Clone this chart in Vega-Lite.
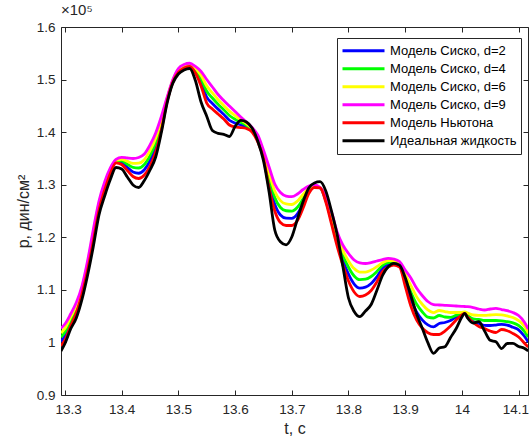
{
  "$schema": "https://vega.github.io/schema/vega-lite/v6.json",
  "width": 467,
  "height": 368,
  "autosize": "none",
  "padding": {"left": 61, "top": 27, "right": 2, "bottom": 50},
  "background": "white",
  "title": {"text": "×10⁵", "anchor": "start", "frame": "group", "fontSize": 15, "font": "Liberation Sans", "fontWeight": "normal", "color": "#262626", "offset": 2},
  "data": {"values": [
    {"t":13.293,"Модель Сиско, d=2":100160,"Модель Сиско, d=4":101000,"Модель Сиско, d=6":101780,"Модель Сиско, d=9":102690,"Модель Ньютона":99320,"Идеальная жидкость":98370},
    {"t":13.30,"Модель Сиско, d=2":101220,"Модель Сиско, d=4":101980,"Модель Сиско, d=6":102680,"Модель Сиско, d=9":103500,"Модель Ньютона":100460,"Идеальная жидкость":99800},
    {"t":13.31,"Модель Сиско, d=2":103690,"Модель Сиско, d=4":104270,"Модель Сиско, d=6":104790,"Модель Сиско, d=9":105410,"Модель Ньютона":103120,"Идеальная жидкость":102550},
    {"t":13.32,"Модель Сиско, d=2":106100,"Модель Сиско, d=4":106600,"Модель Сиско, d=6":107050,"Модель Сиско, d=9":107590,"Модель Ньютона":105600,"Идеальная жидкость":104650},
    {"t":13.33,"Модель Сиско, d=2":109590,"Модель Сиско, d=4":109970,"Модель Сиско, d=6":110320,"Модель Сиско, d=9":110730,"Модель Ньютона":109210,"Идеальная жидкость":108170},
    {"t":13.34,"Модель Сиско, d=2":114230,"Модель Сиско, d=4":114680,"Модель Сиско, d=6":115090,"Модель Сиско, d=9":115580,"Модель Ньютона":113780,"Идеальная жидкость":112830},
    {"t":13.35,"Модель Сиско, d=2":119840,"Модель Сиско, d=4":120390,"Модель Сиско, d=6":120890,"Модель Сиско, d=9":121480,"Модель Ньютона":119290,"Идеальная жидкость":118250},
    {"t":13.36,"Модель Сиско, d=2":125620,"Модель Сиско, d=4":126050,"Модель Сиско, d=6":126440,"Модель Сиско, d=9":126900,"Модель Ньютона":125190,"Идеальная жидкость":124240},
    {"t":13.37,"Модель Сиско, d=2":129370,"Модель Сиско, d=4":129760,"Модель Сиско, d=6":130110,"Модель Сиско, d=9":130520,"Модель Ньютона":128990,"Идеальная жидкость":127850},
    {"t":13.38,"Модель Сиско, d=2":132390,"Модель Сиско, d=4":132660,"Модель Сиско, d=6":132900,"Модель Сиско, d=9":133180,"Модель Ньютона":132130,"Идеальная жидкость":130990},
    {"t":13.39,"Модель Сиско, d=2":134330,"Модель Сиско, d=4":134490,"Модель Сиско, d=6":134630,"Модель Сиско, d=9":134800,"Модель Ньютона":134170,"Идеальная жидкость":133270},
    {"t":13.40,"Модель Сиско, d=2":134180,"Модель Сиско, d=4":134530,"Модель Сиско, d=6":134840,"Модель Сиско, d=9":135210,"Модель Ньютона":133840,"Идеальная жидкость":132990},
    {"t":13.41,"Модель Сиско, d=2":133300,"Модель Сиско, d=4":133890,"Модель Сиско, d=6":134440,"Модель Сиско, d=9":135080,"Модель Ньютона":132700,"Идеальная жидкость":131470},
    {"t":13.42,"Модель Сиско, d=2":132420,"Модель Сиско, d=4":133280,"Модель Сиско, d=6":134060,"Модель Сиско, d=9":134990,"Модель Ньютона":131560,"Идеальная жидкость":129950},
    {"t":13.43,"Модель Сиско, d=2":132180,"Модель Сиско, d=4":133180,"Модель Сиско, d=6":134100,"Модель Сиско, d=9":135180,"Модель Ньютона":131180,"Идеальная жидкость":129470},
    {"t":13.44,"Модель Сиско, d=2":132850,"Модель Сиско, d=4":133850,"Модель Сиско, d=6":134760,"Модель Сиско, d=9":135840,"Модель Ньютона":131850,"Идеальная жидкость":130800},
    {"t":13.45,"Модель Сиско, d=2":134560,"Модель Сиско, d=4":135560,"Модель Сиско, d=6":136470,"Модель Сиско, d=9":137550,"Модель Ньютона":133560,"Идеальная жидкость":132800},
    {"t":13.46,"Модель Сиско, d=2":137130,"Модель Сиско, d=4":138030,"Модель Сиско, d=6":138860,"Модель Сиско, d=9":139840,"Модель Ньютона":136220,"Идеальная жидкость":135270},
    {"t":13.47,"Модель Сиско, d=2":141050,"Модель Сиско, d=4":141700,"Модель Сиско, d=6":142290,"Модель Сиско, d=9":142980,"Модель Ньютона":140410,"Идеальная жидкость":139930},
    {"t":13.48,"Модель Сиско, d=2":145950,"Модель Сиско, d=4":146160,"Модель Сиско, d=6":146360,"Модель Сиско, d=9":146590,"Модель Ньютона":145730,"Идеальная жидкость":145450},
    {"t":13.49,"Модель Сиско, d=2":149560,"Модель Сиско, d=4":149680,"Модель Сиско, d=6":149790,"Модель Сиско, d=9":149920,"Модель Ньютона":149440,"Идеальная жидкость":149250},
    {"t":13.50,"Модель Сиско, d=2":151540,"Модель Сиско, d=4":151730,"Модель Сиско, d=6":151900,"Модель Сиско, d=9":152110,"Модель Ньютона":151350,"Идеальная жидкость":151060},
    {"t":13.51,"Модель Сиско, d=2":152370,"Модель Сиско, d=4":152540,"Модель Сиско, d=6":152690,"Модель Сиско, d=9":152870,"Модель Ньютона":152200,"Идеальная жидкость":151820},
    {"t":13.52,"Модель Сиско, d=2":152640,"Модель Сиско, d=4":152800,"Модель Сиско, d=6":152940,"Модель Сиско, d=9":153100,"Модель Ньютона":152490,"Идеальная жидкость":152110},
    {"t":13.53,"Модель Сиско, d=2":151560,"Модель Сиско, d=4":151870,"Модель Сиско, d=6":152160,"Модель Сиско, d=9":152490,"Модель Ньютона":151250,"Идеальная жидкость":149820},
    {"t":13.54,"Модель Сиско, d=2":149470,"Модель Сиско, d=4":150160,"Модель Сиско, d=6":150800,"Модель Сиско, d=9":151540,"Модель Ньютона":148780,"Идеальная жидкость":145730},
    {"t":13.55,"Модель Сиско, d=2":146660,"Модель Сиско, d=4":147780,"Модель Сиско, d=6":148800,"Модель Сиско, d=9":150010,"Модель Ньютона":145540,"Идеальная жидкость":143030},
    {"t":13.56,"Модель Сиско, d=2":145450,"Модель Сиско, d=4":146500,"Модель Сиско, d=6":147460,"Модель Сиско, d=9":148590,"Модель Ньютона":144400,"Идеальная жидкость":140310},
    {"t":13.57,"Модель Сиско, d=2":144380,"Модель Сиско, d=4":145310,"Модель Сиско, d=6":146160,"Модель Сиско, d=9":147160,"Модель Ньютона":143450,"Идеальная жидкость":139780},
    {"t":13.58,"Модель Сиско, d=2":143380,"Модель Сиско, d=4":144260,"Модель Сиско, d=6":145070,"Модель Сиско, d=9":146020,"Модель Ньютона":142500,"Идеальная жидкость":139590},
    {"t":13.59,"Модель Сиско, d=2":142260,"Модель Сиско, d=4":143170,"Модель Сиско, d=6":144000,"Модель Сиско, d=9":144970,"Модель Ньютона":141360,"Идеальная жидкость":139170},
    {"t":13.60,"Модель Сиско, d=2":141720,"Модель Сиско, d=4":142460,"Модель Сиско, d=6":143130,"Модель Сиско, d=9":143930,"Модель Ньютона":140980,"Идеальная жидкость":141070},
    {"t":13.61,"Модель Сиско, d=2":141380,"Модель Сиско, d=4":141880,"Модель Сиско, d=6":142340,"Модель Сиско, d=9":142880,"Модель Ньютона":140880,"Идеальная жидкость":142250},
    {"t":13.62,"Модель Сиско, d=2":141000,"Модель Сиско, d=4":141310,"Модель Сиско, d=6":141600,"Модель Сиско, d=9":141930,"Модель Ньютона":140690,"Идеальная жидкость":141930},
    {"t":13.63,"Модель Сиско, d=2":140240,"Модель Сиско, d=4":140460,"Модель Сиско, d=6":140650,"Модель Сиско, d=9":140880,"Модель Ньютона":140030,"Идеальная жидкость":140790},
    {"t":13.64,"Модель Сиско, d=2":138460,"Модель Сиско, d=4":138800,"Модель Сиско, d=6":139100,"Модель Сиско, d=9":139460,"Модель Ньютона":138130,"Идеальная жидкость":138320},
    {"t":13.65,"Модель Сиско, d=2":135460,"Модель Сиско, d=4":135840,"Модель Сиско, d=6":136190,"Модель Сиско, d=9":136600,"Модель Ньютона":135080,"Идеальная жидкость":134610},
    {"t":13.66,"Модель Сиско, d=2":130380,"Модель Сиско, d=4":131380,"Модель Сиско, d=6":132290,"Модель Сиско, d=9":133370,"Модель Ньютона":129380,"Идеальная жидкость":128610},
    {"t":13.67,"Модель Сиско, d=2":126290,"Модель Сиско, d=4":127570,"Модель Сиско, d=6":128750,"Модель Сиско, d=9":130140,"Модель Ньютона":125000,"Идеальная жидкость":121390},
    {"t":13.68,"Модель Сиско, d=2":124240,"Модель Сиско, d=4":125670,"Модель Сиско, d=6":126980,"Модель Сиско, d=9":128520,"Модель Ньютона":122810,"Идеальная жидкость":119160},
    {"t":13.69,"Модель Сиско, d=2":123640,"Модель Сиско, d=4":125050,"Модель Сиско, d=6":126340,"Модель Сиско, d=9":127850,"Модель Ньютона":122240,"Идеальная жидкость":118570},
    {"t":13.70,"Модель Сиско, d=2":123610,"Модель Сиско, d=4":124980,"Модель Сиско, d=6":126240,"Модель Сиско, d=9":127720,"Модель Ньютона":122240,"Идеальная жидкость":120050},
    {"t":13.71,"Модель Сиско, d=2":124450,"Модель Сиско, d=4":125710,"Модель Сиско, d=6":126870,"Модель Сиско, d=9":128230,"Модель Ньютона":123190,"Идеальная жидкость":123480},
    {"t":13.72,"Модель Сиско, d=2":126450,"Модель Сиско, d=4":127330,"Модель Сиско, d=6":128140,"Модель Сиско, d=9":129090,"Модель Ньютона":125570,"Идеальная жидкость":126810},
    {"t":13.73,"Модель Сиско, d=2":128690,"Модель Сиско, d=4":129050,"Модель Сиско, d=6":129370,"Модель Сиско, d=9":129760,"Модель Ньютона":128330,"Идеальная жидкость":129380},
    {"t":13.74,"Модель Сиско, d=2":129590,"Модель Сиско, d=4":129710,"Модель Сиско, d=6":129820,"Модель Сиско, d=9":129950,"Модель Ньютона":129470,"Идеальная жидкость":130330},
    {"t":13.75,"Модель Сиско, d=2":129400,"Модель Сиско, d=4":129430,"Модель Сиско, d=6":129450,"Модель Сиско, d=9":129470,"Модель Ньютона":129380,"Идеальная жидкость":130570},
    {"t":13.76,"Модель Сиско, d=2":126970,"Модель Сиско, d=4":127240,"Модель Сиско, d=6":127480,"Модель Сиско, d=9":127760,"Модель Ньютона":126710,"Идеальная жидкость":128800},
    {"t":13.77,"Модель Сиско, d=2":123100,"Модель Сиско, d=4":123670,"Модель Сиско, d=6":124190,"Модель Сиско, d=9":124810,"Модель Ньютона":122530,"Идеальная жидкость":125000},
    {"t":13.78,"Модель Сиско, d=2":119010,"Модель Сиско, d=4":119670,"Модель Сиско, d=6":120280,"Модель Сиско, d=9":121000,"Модель Ньютона":118340,"Идеальная жидкость":120530},
    {"t":13.79,"Модель Сиско, d=2":115680,"Модель Сиско, d=4":116630,"Модель Сиско, d=6":117500,"Модель Сиско, d=9":118530,"Модель Ньютона":114730,"Идеальная жидкость":114540},
    {"t":13.80,"Модель Сиско, d=2":112990,"Модель Сиско, d=4":114300,"Модель Сиско, d=6":115510,"Модель Сиско, d=9":116920,"Модель Ньютона":111680,"Идеальная жидкость":108450},
    {"t":13.81,"Модель Сиско, d=2":111110,"Модель Сиско, d=4":112640,"Модель Сиско, d=6":114040,"Модель Сиско, d=9":115680,"Модель Ньютона":109590,"Идеальная жидкость":105880},
    {"t":13.82,"Модель Сиско, d=2":110330,"Модель Сиско, d=4":111930,"Модель Сиско, d=6":113390,"Модель Сиско, d=9":115110,"Модель Ньютона":108740,"Идеальная жидкость":104890},
    {"t":13.83,"Модель Сиско, d=2":110520,"Модель Сиско, d=4":112020,"Модель Сиско, d=6":113390,"Модель Сиско, d=9":115010,"Модель Ньютона":109020,"Идеальная жидкость":105980},
    {"t":13.84,"Модель Сиско, d=2":111210,"Модель Сиско, d=4":112540,"Модель Сиско, d=6":113760,"Модель Сиско, d=9":115200,"Модель Ньютона":109880,"Идеальная жидкость":107210},
    {"t":13.85,"Модель Сиско, d=2":112490,"Модель Сиско, d=4":113490,"Модель Сиско, d=6":114410,"Модель Сиско, d=9":115490,"Модель Ньютона":111490,"Идеальная жидкость":109880},
    {"t":13.86,"Модель Сиско, d=2":114060,"Модель Сиско, d=4":114630,"Модель Сиско, d=6":115150,"Модель Сиско, d=9":115770,"Модель Ньютона":113490,"Идеальная жидкость":112730},
    {"t":13.87,"Модель Сиско, d=2":114760,"Модель Сиско, d=4":115180,"Модель Сиско, d=6":115550,"Модель Сиско, d=9":116000,"Модель Ньютона":114350,"Идеальная жидкость":114390},
    {"t":13.88,"Модель Сиско, d=2":114990,"Модель Сиско, d=4":115280,"Модель Сиско, d=6":115550,"Модель Сиско, d=9":115870,"Модель Ньютона":114690,"Идеальная жидкость":115050},
    {"t":13.89,"Модель Сиско, d=2":114610,"Модель Сиско, d=4":114870,"Модель Сиско, d=6":115110,"Модель Сиско, d=9":115390,"Модель Ньютона":114350,"Идеальная жидкость":114690},
    {"t":13.90,"Модель Сиско, d=2":111490,"Модель Сиско, d=4":112260,"Модель Сиско, d=6":112960,"Модель Сиско, d=9":113780,"Модель Ньютона":110730,"Идеальная жидкость":112350},
    {"t":13.91,"Модель Сиско, d=2":108260,"Модель Сиско, d=4":109600,"Модель Сиско, d=6":110820,"Модель Сиско, d=9":112260,"Модель Ньютона":106930,"Идеальная жидкость":108930},
    {"t":13.92,"Модель Сиско, d=2":105790,"Модель Сиско, d=4":107310,"Модель Сиско, d=6":108710,"Модель Сиско, d=9":110350,"Модель Ньютона":104270,"Идеальная жидкость":105450},
    {"t":13.93,"Модель Сиско, d=2":104290,"Модель Сиско, d=4":105840,"Модель Сиско, d=6":107260,"Модель Сиско, d=9":108930,"Модель Ньютона":102740,"Идеальная жидкость":102740},
    {"t":13.94,"Модель Сиско, d=2":103340,"Модель Сиско, d=4":104820,"Модель Сиско, d=6":106190,"Модель Сиско, d=9":107790,"Модель Ньютона":101850,"Идеальная жидкость":99950},
    {"t":13.95,"Модель Сиско, d=2":102940,"Модель Сиско, d=4":104650,"Модель Сиско, d=6":105670,"Модель Сиско, d=9":107210,"Модель Ньютона":101510,"Идеальная жидкость":97930},
    {"t":13.96,"Модель Сиско, d=2":103600,"Модель Сиско, d=4":105120,"Модель Сиско, d=6":106070,"Модель Сиско, d=9":107120,"Модель Ньютона":101510,"Идеальная жидкость":98940},
    {"t":13.97,"Модель Сиско, d=2":103790,"Модель Сиско, d=4":104840,"Модель Сиско, d=6":105880,"Модель Сиско, d=9":107060,"Модель Ньютона":102170,"Идеальная жидкость":99170},
    {"t":13.98,"Модель Сиско, d=2":104170,"Модель Сиско, d=4":104780,"Модель Сиско, d=6":105690,"Модель Сиско, d=9":106990,"Модель Ньютона":103120,"Идеальная жидкость":100940},
    {"t":13.99,"Модель Сиско, d=2":104840,"Модель Сиско, d=4":105160,"Модель Сиско, d=6":105690,"Модель Сиско, d=9":106930,"Модель Ньютона":104270,"Идеальная жидкость":102650},
    {"t":14.00,"Модель Сиско, d=2":105310,"Модель Сиско, d=4":105410,"Модель Сиско, d=6":105730,"Модель Сиско, d=9":106870,"Модель Ньютона":105220,"Идеальная жидкость":104840},
    {"t":14.005,"Модель Сиско, d=2":105540,"Модель Сиско, d=4":105540,"Модель Сиско, d=6":105790,"Модель Сиско, d=9":106830,"Модель Ньютона":105540,"Идеальная жидкость":105540},
    {"t":14.01,"Модель Сиско, d=2":104950,"Модель Сиско, d=4":105150,"Модель Сиско, d=6":105600,"Модель Сиско, d=9":106800,"Модель Ньютона":104840,"Идеальная жидкость":104650},
    {"t":14.02,"Модель Сиско, d=2":103940,"Модель Сиско, d=4":104460,"Модель Сиско, d=6":105220,"Модель Сиско, d=9":106640,"Модель Ньютона":103790,"Идеальная жидкость":103700},
    {"t":14.03,"Модель Сиско, d=2":103600,"Модель Сиско, d=4":104360,"Модель Сиско, d=6":105160,"Модель Сиско, d=9":106360,"Модель Ньютона":103030,"Идеальная жидкость":103940},
    {"t":14.04,"Модель Сиско, d=2":103260,"Модель Сиско, d=4":104170,"Модель Сиско, d=6":105160,"Модель Сиско, d=9":106170,"Модель Ньютона":102650,"Идеальная жидкость":102170},
    {"t":14.05,"Модель Сиско, d=2":103220,"Модель Сиско, d=4":104170,"Модель Сиско, d=6":105220,"Модель Сиско, d=9":106360,"Модель Ньютона":102170,"Идеальная жидкость":100400},
    {"t":14.06,"Модель Сиско, d=2":103310,"Модель Сиско, d=4":104170,"Модель Сиско, d=6":105270,"Модель Сиско, d=9":106490,"Модель Ньютона":101890,"Идеальная жидкость":100120},
    {"t":14.07,"Модель Сиско, d=2":103450,"Модель Сиско, d=4":104110,"Модель Сиско, d=6":105250,"Модель Сиско, d=9":106260,"Модель Ньютона":102460,"Идеальная жидкость":98830},
    {"t":14.08,"Модель Сиско, d=2":103310,"Модель Сиско, d=4":103940,"Модель Сиско, d=6":105030,"Модель Сиско, d=9":106040,"Модель Ньютона":102230,"Идеальная жидкость":99800},
    {"t":14.09,"Модель Сиско, d=2":102880,"Модель Сиско, d=4":103730,"Модель Сиско, d=6":104740,"Модель Сиско, d=9":105690,"Модель Ньютона":101700,"Идеальная жидкость":99810},
    {"t":14.10,"Модель Сиско, d=2":102400,"Модель Сиско, d=4":103220,"Модель Сиско, d=6":104170,"Модель Сиско, d=9":105120,"Модель Ньютона":101030,"Идеальная жидкость":99230},
    {"t":14.11,"Модель Сиско, d=2":101220,"Модель Сиско, d=4":102170,"Модель Сиско, d=6":103120,"Модель Сиско, d=9":103890,"Модель Ньютона":99890,"Идеальная жидкость":98900},
    {"t":14.117,"Модель Сиско, d=2":100080,"Модель Сиско, d=4":101030,"Модель Сиско, d=6":101790,"Модель Сиско, d=9":102550,"Модель Ньютона":99130,"Идеальная жидкость":98370}
  ]},
  "transform": [
    {"fold": ["Модель Сиско, d=2", "Модель Сиско, d=4", "Модель Сиско, d=6", "Модель Сиско, d=9", "Модель Ньютона", "Идеальная жидкость"], "as": ["series", "p"]}
  ],
  "config": {
    "font": "Liberation Sans",
    "view": {"stroke": null},
    "axis": {
      "domainColor": "#262626",
      "domainWidth": 1,
      "tickColor": "#262626",
      "tickWidth": 1,
      "tickSize": -5,
      "labelColor": "#262626",
      "titleColor": "#262626",
      "labelFont": "Liberation Sans",
      "titleFont": "Liberation Sans",
      "labelFontSize": 13.5,
      "titleFontSize": 16,
      "titleFontWeight": "normal",
      "grid": false
    }
  },
  "layer": [
    {
      "mark": {"type": "line", "strokeWidth": 2.8, "interpolate": "monotone", "clip": true},
      "encoding": {
        "x": {
          "field": "t", "type": "quantitative",
          "scale": {"domain": [13.293, 14.1166], "nice": false, "zero": false},
          "axis": {"orient": "bottom", "values": [13.3, 13.4, 13.5, 13.6, 13.7, 13.8, 13.9, 14, 14.1], "format": ".4~g", "labelPadding": 12, "labelFlush": 10, "labelFlushOffset": 10, "title": "t, c", "titlePadding": 5}
        },
        "y": {
          "field": "p", "type": "quantitative",
          "scale": {"domain": [90000, 160000], "nice": false, "zero": false},
          "axis": {"orient": "left", "values": [90000, 100000, 110000, 120000, 130000, 140000, 150000, 160000], "labelExpr": "format(datum.value / 100000, '.2~g')", "labelPadding": 11, "title": "p, дин/см²", "titlePadding": 5}
        },
        "color": {
          "field": "series", "type": "nominal",
          "scale": {
            "domain": ["Модель Сиско, d=2", "Модель Сиско, d=4", "Модель Сиско, d=6", "Модель Сиско, d=9", "Модель Ньютона", "Идеальная жидкость"],
            "range": ["#0000ff", "#00ff00", "#ffff00", "#ff00ff", "#ff0000", "#000000"]
          },
          "legend": {
            "orient": "none", "legendX": 276, "legendY": 11, "title": null,
            "symbolType": "stroke", "symbolSize": 1764, "symbolStrokeWidth": 3,
            "labelFont": "Liberation Sans", "labelFontSize": 13, "labelColor": "#000000", "labelOffset": 4, "labelLimit": 300,
            "strokeColor": "#262626", "fillColor": "#ffffff", "padding": 4, "clipHeight": 17.4, "rowPadding": 0, "cornerRadius": 0
          }
        }
      }
    },
    {
      "mark": {"type": "line", "opacity": 0},
      "encoding": {
        "x": {"field": "t", "type": "quantitative", "axis": {"orient": "top", "values": [13.3, 13.4, 13.5, 13.6, 13.7, 13.8, 13.9, 14, 14.1], "labels": false, "title": null}},
        "y": {"field": "p", "type": "quantitative", "axis": {"orient": "right", "values": [90000, 100000, 110000, 120000, 130000, 140000, 150000, 160000], "labels": false, "title": null}},
        "detail": {"field": "series"}
      }
    }
  ],
  "resolve": {"axis": {"x": "independent", "y": "independent"}}
}
